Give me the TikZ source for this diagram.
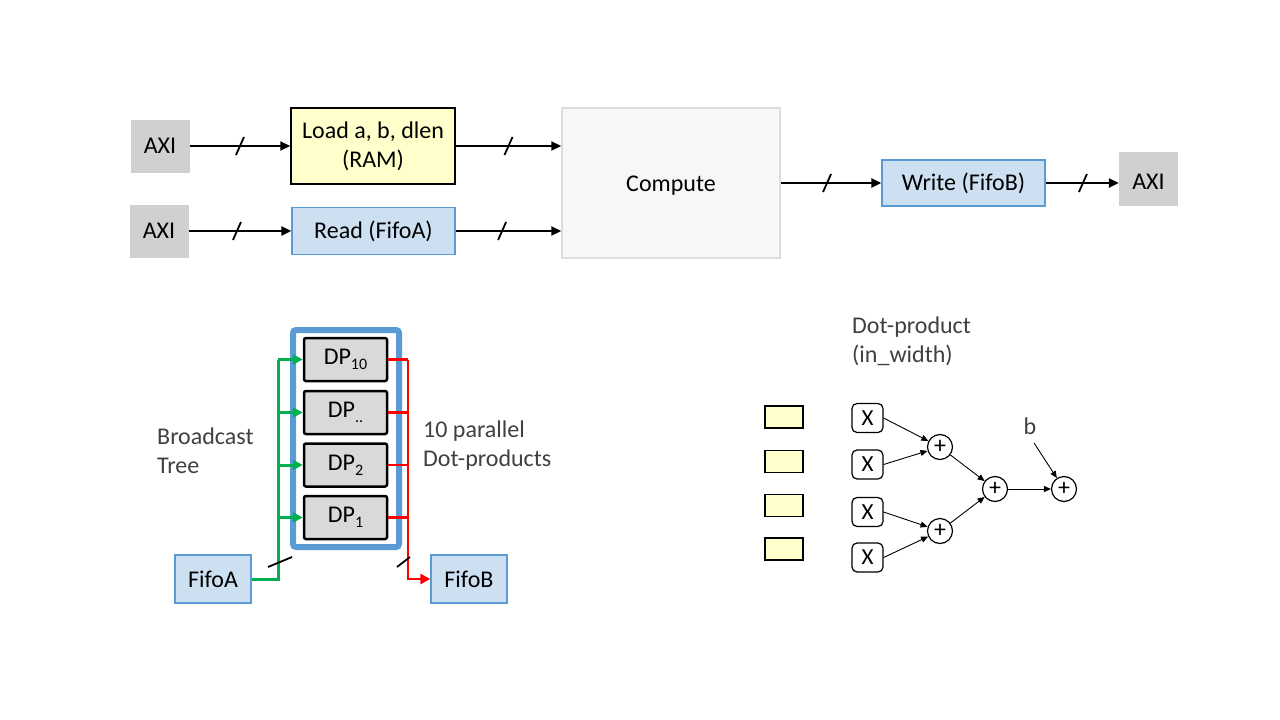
\documentclass[tikz,border=0pt]{standalone}
\usepackage{fontspec}
\setmainfont{Carlito}
\usetikzlibrary{arrows.meta}
\definecolor{axigray}{HTML}{D0D0D0}
\definecolor{loadyel}{HTML}{FFFFCC}
\definecolor{lblue}{HTML}{CCE0F2}
\definecolor{bborder}{HTML}{5B9BD5}
\definecolor{cfill}{HTML}{F7F7F7}
\definecolor{cborder}{HTML}{DDDDDD}
\definecolor{dpgray}{HTML}{D9D9D9}
\definecolor{lblgray}{HTML}{404040}
\definecolor{gline}{HTML}{00B050}
\definecolor{rline}{HTML}{FF0000}
\newcommand{\dpsub}[1]{DP\raisebox{-5pt}{\fontsize{16}{16}\selectfont #1}}
\begin{document}
\begin{tikzpicture}[x=1pt,y=-1pt,
  every node/.style={inner sep=0pt, font=\fontsize{24}{29}\selectfont},
  axi/.style={fill=axigray, minimum width=59pt, minimum height=53pt},
  loadbox/.style={fill=loadyel, draw=black, line width=1.5pt, minimum width=164pt, minimum height=76pt, align=center},
  fifobox/.style={fill=lblue, draw=bborder, line width=1.2pt, minimum width=163pt, minimum height=47pt},
  smallfifo/.style={fill=lblue, draw=bborder, line width=1.2pt, minimum width=76pt, minimum height=48pt},
  compbox/.style={fill=cfill, draw=cborder, line width=1.5pt, minimum width=218pt, minimum height=150pt},
  dpbox/.style={fill=dpgray, draw=black, line width=2.5pt, rounded corners=2pt, minimum width=83pt, minimum height=43pt},
  lbl/.style={text=lblgray, align=left, anchor=west},
  ybox/.style={fill=loadyel, draw=black, line width=1.5pt, minimum width=38pt, minimum height=22pt},
  xbox/.style={fill=white, draw=black, line width=1.2pt, rounded corners=5pt, minimum width=31pt, minimum height=29pt, font=\fontsize{23}{26}\selectfont},
  plusc/.style={circle, fill=white, draw=black, line width=1.2pt, minimum size=25pt, font=\fontsize{24}{26}\selectfont},
  conn/.style={line width=2.2pt, -{Triangle[length=10pt,width=9pt]}},
  thin/.style={line width=0.9pt, -{Triangle[length=7pt,width=6pt]}},
  slashline/.style={line width=1.8pt, black},
  garr/.style={gline, line width=3pt, -{Triangle[length=10pt,width=10pt]}},
  gline3/.style={gline, line width=3pt},
  rarr/.style={rline, line width=2.5pt, -{Triangle[length=10pt,width=10pt]}},
  rline3/.style={rline, line width=2.5pt}
]
\useasboundingbox (0,0) rectangle (1280,720);
\fill[white] (0,0) rectangle (1280,720);

% ---- top row ----
\node[axi] (axi1) at (160,146) {AXI};
\node[axi] (axi2) at (159,231) {AXI};
\node[loadbox] (load) at (373,146) {Load a, b, dlen\\(RAM)};
\node[fifobox] (read) at (373.5,231) {Read (FifoA)};
\node[compbox, label={[yshift=-3pt]center:Compute}] (comp) at (671,183) {};
\node[fifobox, minimum height=46pt] (write) at (963.5,183) {Write (FifoB)};
\node[axi, minimum height=54pt, label={[yshift=-3pt]center:AXI}] (axi3) at (1148.5,179) {};

\draw[conn] (axi1.east) -- coordinate[pos=0.5] (s1) (load.west);
\draw[conn] (load.east) -- coordinate[pos=0.5] (s2) (load.east -| comp.west);
\draw[conn] (axi2.east) -- coordinate[pos=0.47] (s3) (read.west);
\draw[conn] (read.east) -- coordinate[pos=0.44] (s4) (read.east -| comp.west);
\draw[conn] (comp.east) -- coordinate[pos=0.46] (s5) (write.west);
\draw[conn] (write.east) -- coordinate[pos=0.51] (s6) (write.east -| axi3.west);
\foreach \s in {s1,s2,s3,s4,s5,s6}
  \draw[slashline] ([shift={(-4,9)}]\s) -- ([shift={(4,-9)}]\s);

% ---- bottom left: parallel dot products ----
\draw[bborder, line width=6pt, rounded corners=3pt] (293,330) rectangle (399,547);
\node[dpbox] (dp10) at (345.5,359.5) {\dpsub{10}};
\node[dpbox] (dpx) at (345.5,412.5) {\dpsub{..}};
\node[dpbox] (dp2) at (345.5,465) {\dpsub{2}};
\node[dpbox] (dp1) at (345.5,517.5) {\dpsub{1}};

\node[smallfifo] (fifoa) at (213,579) {FifoA};
\node[smallfifo] (fifob) at (469,579) {FifoB};

\coordinate (gtop) at (278,359.5);
\coordinate (rtop) at (408,359.5);
\draw[gline3] (fifoa.east) -| (gtop);
\draw[garr] (gtop) -- (dp10.west);
\draw[garr] (dpx.west -| gtop) -- (dpx.west);
\draw[garr] (dp2.west -| gtop) -- (dp2.west);
\draw[garr] (dp1.west -| gtop) -- (dp1.west);

\draw[rline3] (dp10.east) -- (rtop);
\draw[rline3] (dpx.east) -- (dpx.east -| rtop);
\draw[rline3] (dp2.east) -- (dp2.east -| rtop);
\draw[rline3] (dp1.east) -- (dp1.east -| rtop);
\draw[rarr] (rtop) |- (fifob.west);

\coordinate (gs) at (280,562);
\coordinate (rs) at (403.5,562);
\draw[slashline] ([shift={(-12,5)}]gs) -- ([shift={(12,-5)}]gs);
\draw[slashline] ([shift={(-6.5,5)}]rs) -- ([shift={(6.5,-5)}]rs);

\node[lbl] (bt) at (157,450.5) {Broadcast\\Tree};
\node[lbl] (pd) at (423,445.5) {10 parallel\\Dot-products};

% ---- bottom right: dot-product tree ----
\node[lbl] (dph) at (852,341.5) {Dot-product\\(in\_width)};
\node[ybox] (y1) at (784,417) {};
\node[ybox] (y2) at (784,461.5) {};
\node[ybox] (y3) at (784,505.5) {};
\node[ybox] (y4) at (784,549) {};

\node[xbox] (x1) at (867.5,418) {X};
\node[xbox] (x2) at (867.5,464.5) {X};
\node[xbox] (x3) at (867.5,512) {X};
\node[xbox] (x4) at (867.5,557.5) {X};

\node[plusc] (p1) at (940,447) {+};
\node[plusc] (p2) at (995,489) {+};
\node[plusc] (p3) at (940,531) {+};
\node[plusc] (p4) at (1064,489) {+};

\node[text=lblgray] (b) at (1030,426) {b};
\coordinate (bstart) at (1034,443);

\draw[thin] (x1.east) -- (p1);
\draw[thin] (x2.east) -- (p1);
\draw[thin] (x3.east) -- (p3);
\draw[thin] (x4.east) -- (p3);
\draw[thin] (p1) -- (p2);
\draw[thin] (p3) -- (p2);
\draw[thin] (p2) -- (p4);
\draw[thin] (bstart) -- (p4);
\end{tikzpicture}
\end{document}
